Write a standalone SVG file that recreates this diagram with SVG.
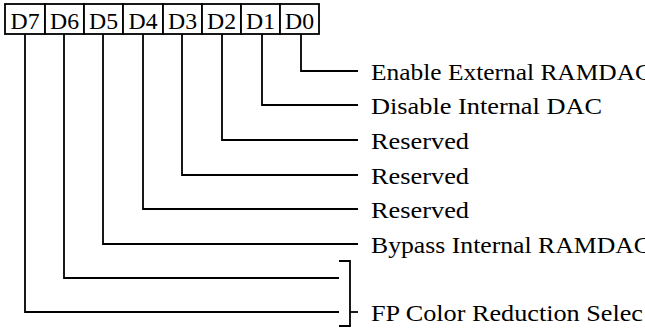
<svg xmlns="http://www.w3.org/2000/svg" width="645" height="329" viewBox="0 0 645 329">
<style>
.cell{fill:#fff;stroke:#000;stroke-width:1.8}
.bt{font-family:"Liberation Serif","Times New Roman",serif;font-size:23px;fill:#000;text-anchor:middle}
.lb{font-family:"Liberation Serif","Times New Roman",serif;font-size:23px;fill:#000}
.ln{fill:none;stroke:#000;stroke-width:1.8}
</style>
<rect width="645" height="329" fill="#fff"/>
<g id="bit-D7"><rect class="cell" x="5" y="4" width="40" height="30"/><text class="bt" x="25" y="29" textLength="29" lengthAdjust="spacingAndGlyphs">D7</text></g>
<g id="bit-D6"><rect class="cell" x="45" y="4" width="39" height="30"/><text class="bt" x="64.5" y="29" textLength="29" lengthAdjust="spacingAndGlyphs">D6</text></g>
<g id="bit-D5"><rect class="cell" x="84" y="4" width="39" height="30"/><text class="bt" x="103.5" y="29" textLength="29" lengthAdjust="spacingAndGlyphs">D5</text></g>
<g id="bit-D4"><rect class="cell" x="123" y="4" width="40" height="30"/><text class="bt" x="143" y="29" textLength="29" lengthAdjust="spacingAndGlyphs">D4</text></g>
<g id="bit-D3"><rect class="cell" x="163" y="4" width="39" height="30"/><text class="bt" x="182.5" y="29" textLength="29" lengthAdjust="spacingAndGlyphs">D3</text></g>
<g id="bit-D2"><rect class="cell" x="202" y="4" width="39" height="30"/><text class="bt" x="221.5" y="29" textLength="29" lengthAdjust="spacingAndGlyphs">D2</text></g>
<g id="bit-D1"><rect class="cell" x="241" y="4" width="39" height="30"/><text class="bt" x="260.5" y="29" textLength="29" lengthAdjust="spacingAndGlyphs">D1</text></g>
<g id="bit-D0"><rect class="cell" x="280" y="4" width="39" height="30"/><text class="bt" x="299.5" y="29" textLength="29" lengthAdjust="spacingAndGlyphs">D0</text></g>

<g id="connectors">
<polyline class="ln" points="301,34 301,71 358,71"/>
<polyline class="ln" points="262,34 262,105 358,105"/>
<polyline class="ln" points="222,34 222,140 358,140"/>
<polyline class="ln" points="182,34 182,175 358,175"/>
<polyline class="ln" points="143,34 143,209 358,209"/>
<polyline class="ln" points="103,34 103,244 358,244"/>
<polyline class="ln" points="64,34 64,278 339,278"/>
<polyline class="ln" points="25,34 25,312 339,312"/>
<polyline class="ln" points="339,261 350,261 350,326 339,326"/>
<line class="ln" x1="350" y1="312" x2="358" y2="312"/>
</g>

<g id="label-D0"><text class="lb" x="371" y="80" textLength="281" lengthAdjust="spacingAndGlyphs">Enable External RAMDAC</text></g>
<g id="label-D1"><text class="lb" x="371" y="114" textLength="231" lengthAdjust="spacingAndGlyphs">Disable Internal DAC</text></g>
<g id="label-D2"><text class="lb" x="371" y="149" textLength="98" lengthAdjust="spacingAndGlyphs">Reserved</text></g>
<g id="label-D3"><text class="lb" x="371" y="184" textLength="98" lengthAdjust="spacingAndGlyphs">Reserved</text></g>
<g id="label-D4"><text class="lb" x="371" y="218" textLength="98" lengthAdjust="spacingAndGlyphs">Reserved</text></g>
<g id="label-D5"><text class="lb" x="371" y="253" textLength="280" lengthAdjust="spacingAndGlyphs">Bypass Internal RAMDAC</text></g>
<g id="label-D76"><text class="lb" x="371" y="321" textLength="272" lengthAdjust="spacingAndGlyphs">FP Color Reduction Selec</text></g>
</svg>
